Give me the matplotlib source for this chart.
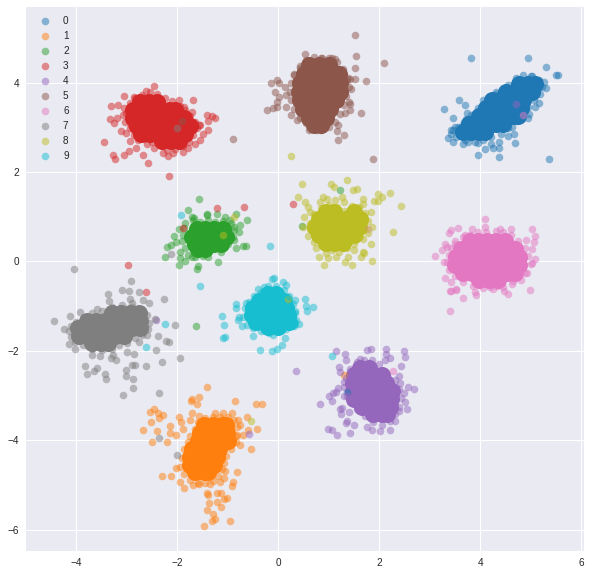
import numpy as np
import matplotlib
matplotlib.use('Agg')
import matplotlib.pyplot as plt

labels = ['0', '1', '2', '3', '4', '5', '6', '7', '8', '9']
xticks = [-4, -2, 0, 2, 4, 6]
yticks = [-6, -4, -2, 0, 2, 4]

# scattered points (x, y)
pts0 = [(3.82,4.54),(4.95,4.56),(5.29,4.34),(5.49,4.16),(5.54,4.16),(3.58,3.60),(3.27,3.40),(3.70,3.49),
        (3.45,3.20),(3.74,3.33),(3.71,3.18),(3.36,2.75),(3.42,2.93),(3.46,2.66),(3.65,2.62),(3.96,2.37),
        (4.08,2.51),(4.20,2.62),(4.24,2.53),(4.36,2.53),(4.36,2.33),(4.36,2.68),(4.54,2.80),(4.67,2.84),
        (4.69,2.64),(5.35,2.28),(4.95,3.20),(4.96,3.30),(5.16,3.55),(5.29,3.87),(5.25,4.02),(5.02,4.15),
        (4.74,4.06),(4.31,3.80),(3.95,2.64),(3.63,3.03),(3.50,3.01),(3.76,2.68),(4.62,3.01),(5.08,3.46),
        (1.36,-2.91)]
pts1 = [(-1.41,-2.80),(-1.72,-3.07),(-1.74,-3.13),(-1.58,-3.03),(-1.62,-3.20),(-0.87,-3.13),(-0.44,-3.18),
        (-0.32,-3.20),(-2.46,-3.29),(-2.54,-3.36),(-2.38,-3.38),(-2.28,-3.44),(-2.36,-3.51),(-2.53,-3.60),
        (-2.69,-3.78),(-2.40,-3.80),(-2.50,-4.05),(-2.20,-4.05),(-2.15,-3.69),(-2.14,-3.83),(-1.98,-3.47),
        (-1.94,-3.60),(-2.03,-3.89),(-1.90,-3.74),(-1.72,-3.40),(-1.58,-3.45),(-1.26,-3.40),(-1.09,-3.40),
        (-0.93,-3.40),(-0.80,-3.55),(-0.76,-3.65),(-0.63,-3.49),(-0.43,-3.74),(-0.61,-3.76),(-0.71,-3.89),
        (-0.77,-4.11),(-0.55,-4.20),(-0.83,-3.89),(-0.83,-4.71),(-1.05,-4.68),(-2.03,-4.61),(-2.30,-4.79),
        (-2.12,-4.81),(-1.95,-4.94),(-1.88,-5.06),(-1.70,-5.00),(-1.58,-4.97),(-0.91,-4.94),(-0.93,-5.03),
        (-1.41,-5.17),(-1.39,-5.23),(-1.22,-5.17),(-1.13,-5.17),(-1.02,-5.30),(-1.08,-5.32),(-1.22,-5.39),
        (-1.13,-5.50),(-1.37,-5.41),(-1.41,-5.55),(-1.29,-5.64),(-1.31,-5.80),(-1.25,-5.77),(-0.97,-5.80),
        (-1.47,-5.91),(-1.16,-4.93),(-1.08,-4.84),(-1.35,-4.97),(-1.75,-3.55),(1.30,-2.53)]
pts2 = [(-1.58,1.39),(-1.80,1.14),(-1.41,1.07),(-1.21,1.07),(-0.84,1.07),(-0.63,0.92),(-0.77,0.81),(-0.79,0.65),
        (-0.89,0.49),(-0.71,0.35),(-0.65,0.34),(-0.85,0.31),(-1.39,0.10),(-1.19,-0.02),(-1.14,0.21),(-1.60,-0.11),
        (-1.62,-0.18),(-1.98,-0.07),(-1.86,0.01),(-1.96,0.07),(-2.25,0.10),(-2.20,0.33),(-2.13,0.37),(-2.07,0.57),
        (-1.98,0.72),(-2.03,0.44),(-1.72,1.00),(-1.68,0.98),(-1.42,1.04),(-1.06,1.00),(-0.96,0.92),(-0.89,0.78),
        (-1.72,0.10),(-1.95,0.22),(-1.64,-1.45),(1.21,1.59),(0.46,0.80)]
pts3 = [(-3.45,2.66),(-3.32,3.47),(-3.17,3.49),(-3.33,3.18),(-3.19,3.21),(-3.25,3.09),(-3.27,2.39),(-3.23,2.28),
        (-3.05,2.37),(-3.11,2.91),(-3.02,2.88),(-2.96,2.48),(-2.69,2.39),(-2.59,2.21),(-2.16,1.92),(-3.05,3.70),
        (-2.87,3.68),(-2.46,3.92),(-2.62,3.82),(-1.70,3.62),(-1.97,3.62),(-1.41,3.27),(-1.32,3.26),(-1.25,3.20),
        (-1.39,3.15),(-1.39,2.93),(-1.50,2.85),(-1.55,2.72),(-1.65,2.62),(-1.80,2.53),(-1.90,2.44),(-2.08,2.42),
        (-2.18,2.36),(-2.28,2.43),(-2.46,2.53),(-2.82,2.54),(-2.94,2.70),(-2.67,2.74),(-1.58,3.06),(-1.72,3.35),
        (-1.87,3.46),(-3.02,3.31),(-2.92,3.05),(-2.87,2.83),(-2.99,-0.07),(-1.22,1.19),(-0.69,1.21),(-1.90,0.74),
        (0.28,1.28),(-2.62,-0.69)]
pts4 = [(1.14,-2.01),(1.31,-2.06),(1.34,-2.21),(1.19,-2.36),(1.21,-2.48),(1.76,-1.98),(1.84,-1.95),(2.12,-1.96),
        (2.12,-2.06),(2.20,-2.17),(2.10,-2.21),(2.48,-2.01),(2.50,-2.14),(2.42,-2.33),(2.39,-2.57),(2.40,-2.71),
        (2.57,-2.80),(2.69,-2.86),(2.48,-2.95),(2.50,-3.14),(2.55,-3.31),(2.38,-3.34),(2.30,-3.56),(2.20,-3.76),
        (2.02,-3.80),(1.86,-3.76),(1.75,-3.70),(1.41,-3.83),(1.16,-3.88),(0.99,-3.74),(1.05,-3.76),(1.50,-3.66),
        (1.33,-3.62),(1.36,-3.57),(1.24,-3.42),(1.39,-3.36),(1.22,-3.29),(1.25,-3.27),(0.83,-3.18),(1.05,-3.13),
        (1.01,-3.00),(1.07,-2.94),(1.14,-2.93),(1.17,-2.84),(1.29,-3.00),(0.35,-2.46),(1.29,-2.69),(1.62,-2.19),
        (4.71,3.51),(-2.43,-1.30),(-0.59,-3.85)]
pts5 = [(-0.15,4.00),(-0.02,4.05),(0.02,3.98),(-0.06,3.78),(0.01,3.68),(-0.03,3.56),(-0.02,3.45),(-0.22,3.38),
        (-0.11,3.42),(0.14,3.45),(0.24,3.27),(0.13,3.89),(0.15,3.72),(0.30,4.17),(-0.91,2.73),(-1.92,3.15),
        (1.51,5.06),(1.54,4.59),(0.53,4.63),(1.51,4.32),(2.08,4.43),(1.51,4.09),(1.41,4.09),(1.74,4.03),
        (1.43,3.85),(1.39,3.57),(1.42,3.53),(1.32,3.33),(1.41,3.39),(1.64,3.31),(1.18,3.06),(1.16,2.92),
        (1.29,2.82),(1.17,2.71),(1.88,2.28),(0.61,2.93),(0.77,2.93),(0.95,3.06),(0.36,3.16),(0.86,4.54),
        (1.06,4.54),(1.12,4.52),(0.59,4.45),(0.43,4.32),(1.35,4.06)]
pts6 = [(4.08,0.94),(3.56,0.74),(3.42,0.70),(3.37,0.63),(3.83,0.72),(4.08,0.76),(4.38,0.73),(4.60,0.72),
        (5.03,0.72),(5.07,0.57),(4.90,0.49),(5.06,0.44),(5.02,0.27),(5.08,0.05),(5.03,-0.04),(3.10,0.11),
        (3.29,0.40),(3.23,0.25),(3.33,0.33),(3.27,-0.02),(3.29,-0.36),(3.41,-0.47),(3.50,0.40),(3.70,0.59),
        (3.52,-0.61),(3.40,-0.66),(4.65,-0.44),(4.89,-0.27),(1.78,0.72),(3.41,-0.67),(3.52,-0.63),(3.66,-0.81),
        (3.39,-1.12),(3.90,-0.69),(3.92,-0.76),(4.46,-0.67),(4.54,-0.74),(4.99,-0.63),(4.18,-0.57),(4.32,-0.55),
        (2.26,-2.46),(4.85,3.27)]
pts7 = [(-4.04,-0.18),(-2.93,-0.43),(-3.09,-0.63),(-2.97,-0.66),(-2.77,-0.68),(-3.37,-0.74),(-3.35,-0.89),
        (-2.94,-0.83),(-2.90,-0.94),(-2.69,-0.87),(-2.57,-0.94),(-2.26,-0.85),(-4.44,-1.34),(-4.12,-1.21),
        (-3.94,-1.14),(-4.24,-1.52),(-4.14,-1.85),(-4.02,-1.95),(-3.60,-1.07),(-3.84,-2.35),(-3.80,-2.51),
        (-3.66,-2.45),(-3.60,-2.39),(-3.43,-2.51),(-3.41,-2.64),(-3.31,-2.17),(-3.21,-2.21),(-3.01,-2.42),
        (-3.01,-2.57),(-2.89,-2.62),(-3.07,-2.98),(-2.89,-2.84),(-2.36,-2.95),(-2.36,-3.94),(-2.00,-4.34),
        (-2.87,-2.06),(-3.00,-2.02),(-2.85,-2.32),(-2.90,-2.32),(-2.63,-2.35),(-2.42,-1.98),(-2.39,-1.66),
        (-2.23,-1.77),(-2.17,-1.81),(-2.30,-2.24),(-1.96,-2.17),(-2.04,-1.42),(-2.44,-1.28),(-3.27,-2.10),
        (-3.53,-2.11),(-3.70,-2.09),(-2.61,-1.65),(-2.77,-1.80),(-2.00,2.98),(-2.13,0.16)]
pts8 = [(0.46,1.74),(0.38,1.43),(1.03,1.74),(1.10,1.66),(1.35,1.83),(1.47,1.60),(1.55,1.61),(0.89,1.45),
        (0.96,1.40),(1.25,1.45),(0.53,1.32),(0.59,1.21),(0.83,1.32),(1.11,1.37),(1.29,1.33),(1.67,1.39),
        (1.68,1.28),(1.83,1.10),(1.97,1.51),(1.89,1.36),(1.97,1.34),(2.04,1.43),(2.20,1.54),(2.42,1.25),
        (2.26,0.65),(1.85,0.76),(1.77,0.63),(1.84,0.40),(1.67,0.51),(1.86,0.02),(1.67,0.22),(1.70,0.18),
        (1.63,0.10),(1.50,0.25),(1.45,-0.08),(1.31,-0.01),(1.37,0.10),(1.14,0.10),(0.99,0.07),(0.91,-0.07),
        (0.81,0.10),(0.94,0.18),(0.75,0.31),(0.71,0.44),(0.58,0.57),(0.48,0.78),(0.50,1.00),(0.63,1.11),
        (0.67,0.70),(0.24,2.35),(-1.09,0.58),(-0.89,1.00),(0.18,-0.84),(-0.55,-3.56)]
pts9 = [(-1.56,-0.56),(-0.84,-0.96),(-0.85,-1.04),(-0.65,-0.94),(-1.11,-1.21),(-1.07,-1.43),(-1.09,-1.72),
        (-1.05,-1.70),(-0.79,-1.25),(-0.81,-1.31),(-0.73,-1.44),(-0.51,-1.67),(-0.36,-1.99),(-0.12,-2.01),
        (-0.03,-1.95),(0.07,-1.87),(0.13,-1.72),(-0.10,-1.65),(-0.40,-0.62),(-0.08,-0.37),(-0.13,-0.40),
        (0.08,-0.47),(0.14,-0.53),(-0.28,-0.57),(0.53,-0.85),(0.55,-0.99),(0.69,-1.03),(0.57,-1.10),
        (0.40,-1.41),(0.33,-1.41),(0.33,-0.87),(0.33,-1.16),(1.05,-2.12),(-1.94,1.03),(-0.16,0.34),
        (-2.24,-1.41),(-2.63,-1.92)]

# points along the edge of each solid area
rim0 = [(3.45,2.95),(3.55,3.0),(3.68,3.12),(3.82,3.28),(3.95,3.42),(4.05,3.6),(4.2,3.7),(4.3,3.75),(4.45,3.82),
        (4.55,3.95),(4.7,4.1),(4.85,4.18),(5.0,4.15),(5.15,4.05),(5.22,3.9),(5.18,3.75),(5.05,3.6),(4.95,3.45),
        (4.85,3.3),(4.7,3.15),(4.55,2.98),(4.4,2.85),(4.2,2.78),(4.05,2.72),(3.9,2.68),(3.7,2.72),(3.52,2.78),(3.42,2.85)]
rim1 = [(-0.83,-3.7),(-0.85,-3.9),(-0.85,-4.05),(-0.95,-4.2),(-1.03,-4.35),(-1.08,-4.5),(-1.12,-4.65),(-1.2,-4.8),
        (-1.3,-4.9),(-1.45,-4.95),(-1.6,-4.95),(-1.75,-4.88),(-1.88,-4.75),(-1.95,-4.6),(-1.92,-4.4),(-1.88,-4.2),
        (-1.8,-4.05),(-1.75,-3.9),(-1.65,-3.75),(-1.6,-3.6),(-1.45,-3.5),(-1.3,-3.47),(-1.15,-3.47),(-1.0,-3.48),(-0.88,-3.55)]
rim2 = [(-1.85,0.85),(-1.7,0.93),(-1.55,0.88),(-1.4,0.92),(-1.25,0.88),(-1.1,0.9),(-0.95,0.85),(-0.88,0.7),(-0.9,0.55),
        (-1.0,0.4),(-1.1,0.3),(-1.25,0.27),(-1.4,0.25),(-1.5,0.13),(-1.65,0.1),(-1.8,0.15),(-1.85,0.3),(-1.92,0.45),
        (-1.9,0.6),(-1.88,0.75)]
rim3 = [(-2.95,3.55),(-2.85,3.65),(-2.7,3.72),(-2.55,3.78),(-2.4,3.75),(-2.25,3.65),(-2.1,3.58),(-1.95,3.48),(-1.85,3.38),
        (-1.75,3.25),(-1.65,3.12),(-1.62,2.98),(-1.7,2.82),(-1.78,2.68),(-1.9,2.58),(-2.05,2.52),(-2.2,2.5),(-2.35,2.6),
        (-2.5,2.68),(-2.65,2.8),(-2.8,2.88),(-2.95,2.98),(-3.03,3.12),(-3.07,3.28),(-3.05,3.42),(-2.78,2.72),(-2.6,2.62),
        (-1.55,3.05),(-1.72,3.0)]
rim4 = [(1.55,-2.25),(1.7,-2.2),(1.85,-2.2),(2.0,-2.3),(2.15,-2.55),(2.3,-2.65),(2.38,-2.85),(2.42,-3.05),(2.38,-3.25),
        (2.3,-3.42),(2.2,-3.58),(2.05,-3.65),(1.88,-3.6),(1.72,-3.45),(1.55,-3.3),(1.42,-3.15),(1.35,-3.0),(1.3,-2.8),
        (1.33,-2.6),(1.42,-2.4)]
rim5 = [(0.55,4.5),(0.7,4.58),(0.85,4.55),(1.0,4.55),(1.15,4.45),(1.28,4.3),(1.37,4.1),(1.4,3.9),(1.33,3.7),(1.3,3.5),
        (1.22,3.3),(1.12,3.12),(1.0,3.0),(0.85,2.93),(0.7,2.97),(0.55,3.1),(0.42,3.2),(0.3,3.4),(0.25,3.6),(0.22,3.8),
        (0.25,4.0),(0.3,4.2),(0.42,4.38)]
rim6 = [(3.5,0.45),(3.65,0.55),(3.8,0.6),(3.95,0.65),(4.1,0.65),(4.3,0.68),(4.45,0.65),(4.6,0.6),(4.75,0.45),(4.88,0.3),
        (4.95,0.12),(5.0,-0.05),(4.92,-0.25),(4.8,-0.42),(4.62,-0.5),(4.45,-0.58),(4.25,-0.62),(4.05,-0.6),(3.85,-0.55),
        (3.65,-0.45),(3.5,-0.32),(3.38,-0.2),(3.33,-0.02),(3.38,0.15),(3.42,0.3)]
rim7 = [(-4.1,-1.45),(-4.0,-1.35),(-3.85,-1.25),(-3.7,-1.15),(-3.5,-1.1),(-3.3,-1.02),(-3.1,-0.98),(-2.9,-1.02),(-2.72,-1.08),
        (-2.6,-1.2),(-2.56,-1.38),(-2.58,-1.52),(-2.7,-1.65),(-2.85,-1.72),(-3.0,-1.82),(-3.15,-1.88),(-3.3,-1.95),(-3.5,-1.98),
        (-3.7,-1.95),(-3.88,-1.88),(-4.02,-1.8),(-4.1,-1.68),(-4.15,-1.55)]
rim8 = [(0.62,0.85),(0.7,1.05),(0.85,1.2),(1.0,1.27),(1.15,1.22),(1.3,1.12),(1.45,1.25),(1.6,1.22),(1.72,1.08),(1.78,0.9),
        (1.72,0.72),(1.62,0.55),(1.5,0.4),(1.35,0.3),(1.2,0.22),(1.05,0.25),(0.9,0.38),(0.8,0.5),(0.7,0.62),(0.62,0.72)]
rim9 = [(-0.35,-0.68),(-0.2,-0.55),(-0.05,-0.55),(0.1,-0.65),(0.2,-0.78),(0.28,-0.95),(0.32,-1.12),(0.35,-1.3),(0.3,-1.45),
        (0.15,-1.52),(0.0,-1.55),(-0.18,-1.6),(-0.35,-1.55),(-0.5,-1.5),(-0.62,-1.42),(-0.7,-1.25),(-0.66,-1.05),(-0.58,-0.9),(-0.48,-0.78)]

core0 = [(2.9,[3.65,3.82,3.98,4.08]),(3.08,[3.78,3.96,4.14,4.3,4.45]),(3.26,[3.97,4.12,4.28,4.46,4.64,4.74]),
         (3.44,[4.1,4.28,4.46,4.62,4.8]),(3.62,[4.22,4.38,4.56,4.72,4.85]),(3.8,[4.5,4.68,4.86,5.02]),
         (3.96,[4.76,4.94,5.08])]
core1 = [(-3.65,[-1.48,-1.3,-1.12,-1.03]),(-3.83,[-1.55,-1.37,-1.19,-1.01]),(-4.01,[-1.6,-1.42,-1.24,-1.06,-1.0]),
         (-4.19,[-1.72,-1.54,-1.36,-1.18]),(-4.37,[-1.75,-1.57,-1.39,-1.22]),(-4.55,[-1.76,-1.58,-1.4,-1.27]),
         (-4.7,[-1.65,-1.48,-1.4])]
core2 = [(0.72,[-1.62,-1.45,-1.28,-1.1]),(0.55,[-1.72,-1.55,-1.38,-1.2,-1.03]),(0.4,[-1.66,-1.48,-1.3,-1.14]),
         (0.28,[-1.6,-1.45])]
core3 = [(3.56,[-2.75,-2.57,-2.4]),(3.38,[-2.88,-2.7,-2.52,-2.34,-2.16,-2.05]),
         (3.2,[-2.88,-2.7,-2.52,-2.34,-2.16,-1.98,-1.88]),(3.02,[-2.8,-2.62,-2.44,-2.26,-2.08,-1.9,-1.76]),
         (2.84,[-2.72,-2.55,-2.37,-2.19,-2.01,-1.86]),(2.7,[-2.3,-2.12,-1.98])]
core4 = [(-2.38,[1.62,1.8]),(-2.55,[1.5,1.68,1.86,2.04]),(-2.72,[1.48,1.66,1.84,2.02,2.12]),
         (-2.9,[1.47,1.65,1.83,2.01,2.19,2.24]),(-3.08,[1.5,1.68,1.86,2.04,2.22]),(-3.26,[1.65,1.83,2.01,2.2]),
         (-3.42,[1.88,2.05,2.15])]
core5 = [(4.4,[0.6,0.8,1.0]),(4.2,[0.5,0.68,0.86,1.04,1.2]),(4.0,[0.42,0.6,0.78,0.96,1.14,1.22]),
         (3.8,[0.4,0.58,0.76,0.94,1.12,1.22]),(3.6,[0.42,0.6,0.78,0.96,1.14]),(3.4,[0.48,0.66,0.84,1.02]),
         (3.2,[0.6,0.78,0.95]),(3.05,[0.7,0.85])]
core6 = [(0.45,[3.8,3.95,4.13,4.31,4.49]),(0.27,[3.62,3.8,3.98,4.16,4.34,4.52,4.68]),
         (0.09,[3.52,3.7,3.88,4.06,4.24,4.42,4.6,4.76]),(-0.09,[3.5,3.68,3.86,4.04,4.22,4.4,4.58,4.76]),
         (-0.27,[3.65,3.83,4.01,4.19,4.37,4.55,4.68]),(-0.42,[3.98,4.16,4.34])]
core7 = [(-1.16,[-3.3,-3.12,-2.94,-2.76]),(-1.33,[-3.8,-3.62,-3.44,-3.26,-3.08,-2.9,-2.74]),
         (-1.5,[-3.98,-3.8,-3.62,-3.44,-3.26,-3.08,-2.9,-2.74]),(-1.67,[-3.95,-3.77,-3.59,-3.41,-3.23,-3.05]),
         (-1.82,[-3.7,-3.52,-3.38])]
core8 = [(1.1,[0.95,1.1,1.5]),(0.95,[0.8,0.98,1.16,1.34,1.5,1.62]),(0.78,[0.72,0.9,1.08,1.26,1.44,1.6]),
         (0.6,[0.8,0.98,1.16,1.34,1.5]),(0.42,[0.95,1.1,1.28])]
core9 = [(-0.72,[-0.2,-0.05]),(-0.88,[-0.38,-0.2,-0.03,0.1]),(-1.04,[-0.5,-0.32,-0.14,0.04,0.15]),
         (-1.2,[-0.52,-0.34,-0.16,0.02,0.18]),(-1.36,[-0.45,-0.27,-0.09,0.09,0.2]),(-1.46,[-0.2,0.0])]

outer = [pts0, pts1, pts2, pts3, pts4, pts5, pts6, pts7, pts8, pts9]
rims = [rim0, rim1, rim2, rim3, rim4, rim5, rim6, rim7, rim8, rim9]
cores = [core0, core1, core2, core3, core4, core5, core6, core7, core8, core9]

plt.style.use('seaborn-v0_8')
colors = plt.cm.tab10.colors

fig = plt.figure(figsize=(590 / 72, 575 / 72), dpi=72)
ax = fig.add_axes([26 / 590, 1 - 550.7 / 575, 558 / 590, 543.7 / 575])

# solid middles first, then the see-through points over them
for i in range(10):
    xs = [x for row in cores[i] for x in row[1]]
    ys = [row[0] for row in cores[i] for x in row[1]]
    ax.scatter(xs, ys, s=290, color=colors[i], linewidths=0, zorder=2)

for i in range(10):
    p = np.array(rims[i] + outer[i])
    ax.scatter(p[:, 0], p[:, 1], s=58, color=colors[i], alpha=0.5, linewidths=0, zorder=3, label=labels[i])

ax.set_xlim(-5.0, 6.05)
ax.set_ylim(-6.47, 5.69)
ax.set_xticks(xticks)
ax.set_yticks(yticks)
ax.legend(loc='upper left')

fig.savefig('out.png', dpi=72)
